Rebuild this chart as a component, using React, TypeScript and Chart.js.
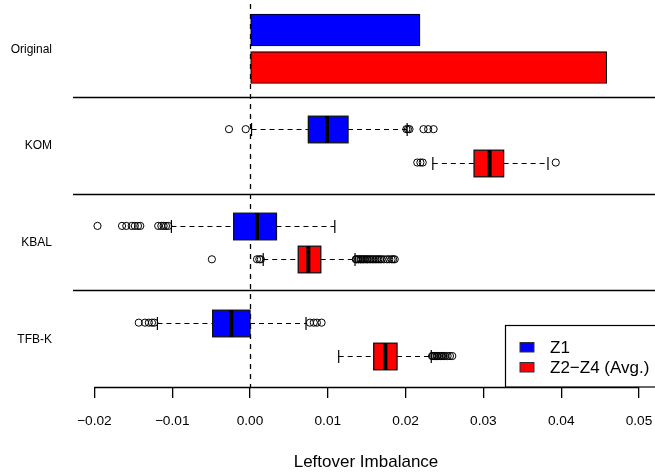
import React, { useEffect, useRef } from 'react';
import { Chart, registerables } from 'chart.js';

Chart.register(...registerables);

// ---------- data ----------
const groupLabels = ['Original', 'KOM', 'KBAL', 'TFB-K'];
const seriesLabels = ['Z1', 'Z2\u2212Z4 (Avg.)'];
const seriesColors = ['#0000FF', '#FF0000'];

// "Original" bars (Z1, Z2-Z4)
const originalValues = [0.02185, 0.04585];

const xTickValues = [-0.02, -0.01, 0, 0.01, 0.02, 0.03, 0.04, 0.05];
const xTickLabels = ['\u22120.02', '\u22120.01', '0.00', '0.01', '0.02', '0.03', '0.04', '0.05'];

// Box statistics for KOM, KBAL, TFB-K
const z1WhiskerLow = [0.0002, -0.0101, -0.0119];
const z1Q1 = [0.0075, -0.0021, -0.0048];
const z1Median = [0.0099, 0.0009, -0.0024];
const z1Q3 = [0.0126, 0.0034, 0.0];
const z1WhiskerHigh = [0.0202, 0.0109, 0.0072];

const z2WhiskerLow = [0.0235, 0.0017, 0.0114];
const z2Q1 = [0.0288, 0.0062, 0.0159];
const z2Median = [0.0308, 0.0075, 0.0174];
const z2Q3 = [0.0326, 0.0091, 0.0189];
const z2WhiskerHigh = [0.0383, 0.0135, 0.0233];

// Outliers
const komZ1Outliers = [-0.0027, -0.00055, 0.0201, 0.0203, 0.0205, 0.0223, 0.0229, 0.0236];
const komZ2Outliers = [0.0215, 0.0219, 0.0222, 0.0393];
const kbalZ1Outliers = [-0.0196, -0.01645, -0.0159, -0.0152, -0.0148, -0.0144, -0.0141, -0.0118, -0.0114, -0.0111, -0.0108, -0.0105];
const kbalZ2Outliers = [-0.0049, 0.0009, 0.0012, 0.0014, 0.0136, 0.0137, 0.0139, 0.014, 0.0142, 0.0143, 0.0145, 0.0146, 0.0148, 0.015, 0.0151, 0.0153, 0.0155, 0.0157, 0.0159, 0.0161, 0.0163, 0.0165, 0.0167, 0.0169, 0.0172, 0.0176, 0.0179, 0.0182, 0.0184, 0.0186];
const tfbZ1Outliers = [-0.0143, -0.0135, -0.013, -0.0126, -0.0123, 0.0077, 0.0082, 0.0086, 0.0092];
const tfbZ2Outliers = [0.0234, 0.0235, 0.0237, 0.0238, 0.024, 0.0241, 0.0243, 0.0245, 0.0247, 0.0249, 0.0251, 0.0254, 0.0257, 0.026];

const z1Outliers = [komZ1Outliers, kbalZ1Outliers, tfbZ1Outliers];
const z2Outliers = [komZ2Outliers, kbalZ2Outliers, tfbZ2Outliers];

// ---------- layout constants ----------
const barOffsets = [0.31, 0.698];
const boxOffsets = [0.335, 0.68];
const FONT = '"Liberation Sans", Arial, Helvetica, sans-serif';

function line(ctx: CanvasRenderingContext2D, x1: number, y1: number, x2: number, y2: number) {
  ctx.beginPath();
  ctx.moveTo(x1, y1);
  ctx.lineTo(x2, y2);
  ctx.stroke();
}

const rPlugin = {
  id: 'rStyle',
  beforeDatasetsDraw(chart: any) {
    const { ctx, chartArea, scales } = chart;
    const x = scales.x;
    const y = scales.y;
    ctx.save();
    // group separators
    ctx.strokeStyle = '#000';
    ctx.lineWidth = 1.3;
    for (let g = 1; g < groupLabels.length; g++) {
      const py = Math.round(y.getPixelForValue(g)) + 0.5;
      line(ctx, chartArea.left, py, chartArea.right, py);
    }
    // zero dashed line
    ctx.setLineDash([5, 5]);
    const zx = Math.round(x.getPixelForValue(0)) + 0.5;
    line(ctx, zx, chartArea.top + 4, zx, chartArea.bottom);
    ctx.setLineDash([]);

    // box plots
    for (let m = 0; m < 3; m++) {
      for (let s = 0; s < 2; s++) {
        const lo = s === 0 ? z1WhiskerLow[m] : z2WhiskerLow[m];
        const q1 = s === 0 ? z1Q1[m] : z2Q1[m];
        const med = s === 0 ? z1Median[m] : z2Median[m];
        const q3 = s === 0 ? z1Q3[m] : z2Q3[m];
        const hi = s === 0 ? z1WhiskerHigh[m] : z2WhiskerHigh[m];
        const cy = Math.round(y.getPixelForValue(m + 1 + boxOffsets[s])) + 0.5;
        const xl = x.getPixelForValue(lo);
        const xq1 = x.getPixelForValue(q1);
        const xm = x.getPixelForValue(med);
        const xq3 = x.getPixelForValue(q3);
        const xh = x.getPixelForValue(hi);
        const half = 13.3;
        // whiskers
        ctx.strokeStyle = '#000';
        ctx.lineWidth = 1.2;
        ctx.setLineDash([5, 4]);
        line(ctx, xl, cy, xq1, cy);
        line(ctx, xq3, cy, xh, cy);
        ctx.setLineDash([]);
        // staples
        line(ctx, xl, cy - 6.5, xl, cy + 6.5);
        line(ctx, xh, cy - 6.5, xh, cy + 6.5);
        // box
        ctx.fillStyle = seriesColors[s];
        ctx.fillRect(xq1, cy - half, xq3 - xq1, half * 2);
        ctx.lineWidth = 1.3;
        ctx.strokeStyle = '#111';
        ctx.strokeRect(xq1, cy - half, xq3 - xq1, half * 2);
        // median
        ctx.strokeStyle = '#000';
        ctx.lineWidth = 4;
        line(ctx, xm, cy - half, xm, cy + half);
      }
    }
    ctx.restore();
  },
  afterDraw(chart: any) {
    const { ctx, chartArea, scales } = chart;
    const x = scales.x;
    ctx.save();
    // x axis line (R-style, only between first and last tick)
    ctx.strokeStyle = '#000';
    ctx.lineWidth = 1.3;
    const ay = Math.round(chartArea.bottom) + 0.5;
    line(ctx, x.getPixelForValue(xTickValues[0]), ay, x.getPixelForValue(xTickValues[xTickValues.length - 1]), ay);

    // legend (bottom right)
    const lx = Math.round(chartArea.right - 154) + 0.5;
    const ly = Math.round(chartArea.bottom - 62.5) + 0.5;
    ctx.fillStyle = '#fff';
    ctx.fillRect(lx, ly, chartArea.right - lx + 10, chartArea.bottom - ly);
    ctx.strokeStyle = '#000';
    ctx.lineWidth = 1.2;
    ctx.strokeRect(lx, ly, chartArea.right - lx + 10, chartArea.bottom - ly);
    ctx.font = '17px ' + FONT;
    ctx.textBaseline = 'middle';
    ctx.textAlign = 'left';
    for (let s = 0; s < 2; s++) {
      const sy = ly + 17 + s * 20;
      ctx.fillStyle = seriesColors[s];
      ctx.fillRect(lx + 14.5, sy, 14, 9.5);
      ctx.strokeStyle = '#333';
      ctx.lineWidth = 1;
      ctx.strokeRect(lx + 14.5, sy, 14, 9.5);
      ctx.fillStyle = '#000';
      ctx.fillText(seriesLabels[s], lx + 44.5, sy + 5.5);
    }
    ctx.restore();
  },
};

export default function App() {
  const ref = useRef<HTMLCanvasElement | null>(null);
  useEffect(() => {
    if (!ref.current) return;
    Chart.defaults.font.family = FONT;
    Chart.defaults.color = '#000';

    const barData = originalValues.map((v, i) => ({ x: v, y: barOffsets[i] }));
    const mkPts = (lists: number[][], s: number) => {
      const pts: { x: number; y: number }[] = [];
      lists.forEach((vals, m) => vals.forEach((v) => pts.push({ x: v, y: m + 1 + boxOffsets[s] })));
      return pts;
    };

    const chart = new Chart(ref.current, {
      type: 'scatter',
      data: {
        datasets: [
          {
            type: 'bar',
            indexAxis: 'y',
            data: barData as any,
            backgroundColor: seriesColors,
            borderColor: '#000',
            borderWidth: 1.2,
            borderSkipped: false,
            barThickness: 32,
            order: 1,
          } as any,
          {
            type: 'scatter',
            data: mkPts(z1Outliers, 0),
            pointStyle: 'circle',
            radius: 3.6,
            borderColor: '#000',
            borderWidth: 1,
            backgroundColor: 'rgba(0,0,0,0)',
            order: 0,
          },
          {
            type: 'scatter',
            data: mkPts(z2Outliers, 1),
            pointStyle: 'circle',
            radius: 3.6,
            borderColor: '#000',
            borderWidth: 1,
            backgroundColor: 'rgba(0,0,0,0)',
            order: 0,
          },
        ],
      },
      options: {
        animation: false,
        responsive: false,
        events: [],
        layout: { padding: 0, autoPadding: false },
        plugins: { legend: { display: false }, tooltip: { enabled: false } },
        scales: {
          x: {
            type: 'linear',
            position: 'bottom',
            min: -0.02275,
            max: 0.05257,
            bounds: 'data',
            offset: false,
            afterBuildTicks: (s: any) => {
              s.ticks = xTickValues.map((v) => ({ value: v }));
            },
            afterFit: (s: any) => {
              s.height = 89;
              s.paddingLeft = 0;
              s.paddingRight = 0;
            },
            grid: { drawOnChartArea: false, drawTicks: true, tickLength: 11, color: '#000', lineWidth: 1.3, offset: false },
            border: { display: false },
            ticks: {
              autoSkip: false,
              maxRotation: 0,
              padding: 15.5,
              font: { size: 13.7, family: FONT },
              color: '#000',
              callback: (_v: any, i: number) => xTickLabels[i],
            },
            title: {
              display: true,
              text: 'Leftover Imbalance',
              font: { size: 17, family: FONT },
              color: '#000',
              padding: { top: 0, bottom: 3 },
            },
          },
          y: {
            type: 'linear',
            position: 'left',
            min: 0,
            max: 4,
            reverse: true,
            bounds: 'data',
            offset: false,
            afterBuildTicks: (s: any) => {
              s.ticks = groupLabels.map((_g, i) => ({ value: i + 0.51 }));
            },
            afterFit: (s: any) => {
              s.width = 73;
              s.paddingTop = 0;
              s.paddingBottom = 0;
            },
            grid: { display: false, drawTicks: true, tickLength: 21, offset: false },
            border: { display: false },
            ticks: {
              autoSkip: false,
              padding: 0,
              font: { size: 12, family: FONT },
              color: '#000',
              callback: (_v: any, i: number) => groupLabels[i],
            },
          },
        },
      },
      plugins: [rPlugin],
    });
    return () => chart.destroy();
  }, []);

  return (
    <div style={{ position: 'absolute', left: 0, top: 0, width: 655, height: 476, overflow: 'hidden', background: '#fff' }}>
      <canvas ref={ref} width={659} height={476} style={{ display: 'block', width: 659, height: 476 }} />
    </div>
  );
}
